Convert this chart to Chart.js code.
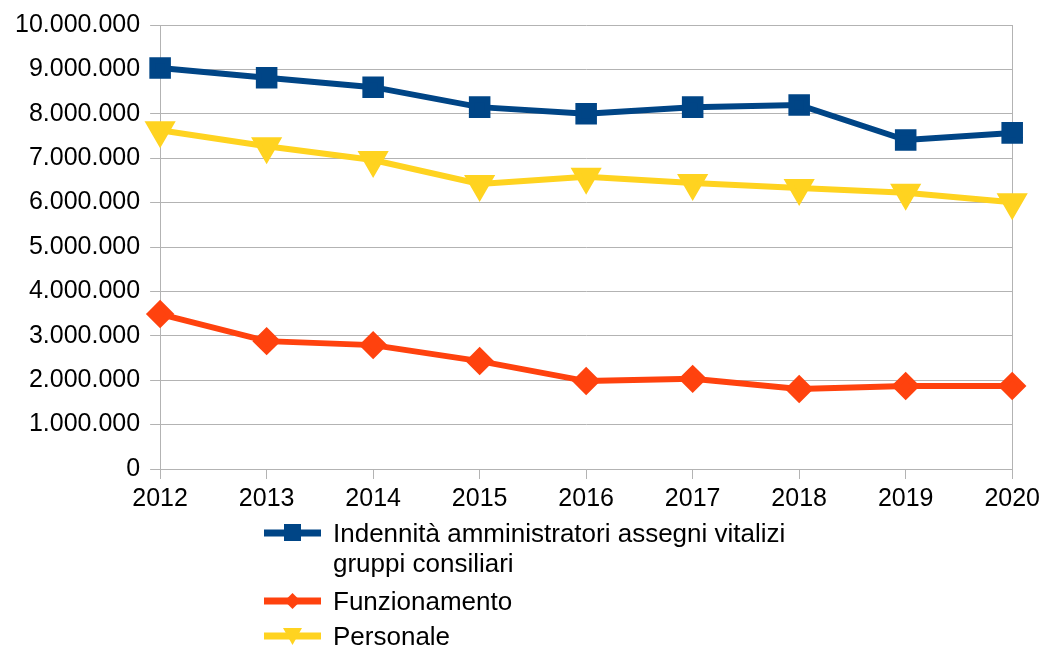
<!DOCTYPE html>
<html>
<head>
<meta charset="utf-8">
<script src="https://cdn.jsdelivr.net/npm/chart.js@4.4.1/dist/chart.umd.min.js"></script>
<style>
  html, body { margin: 0; padding: 0; background: #fff; }
  #wrap { position: relative; width: 1045px; height: 647px; }
  #c { position: absolute; left: 0; top: 0; }
  #legend { position: absolute; left: 264px; top: 518px; font-family: "Liberation Sans", Arial, sans-serif; font-size: 26px; color: #000; }
  .item { position: relative; padding-left: 69px; line-height: 30px; white-space: nowrap; }
  .item svg { position: absolute; left: 0; top: 2px; }
</style>
</head>
<body>
<div id="wrap">
  <canvas id="c" width="1045" height="647"></canvas>
  <div id="legend"></div>
</div>
<script>
const years = ['2012','2013','2014','2015','2016','2017','2018','2019','2020'];
const indennita = [9030000, 8810000, 8600000, 8150000, 8000000, 8150000, 8200000, 7410000, 7570000];
const funzionamento = [3490000, 2880000, 2790000, 2430000, 1980000, 2030000, 1800000, 1870000, 1870000];
const personale = [7630000, 7270000, 6960000, 6420000, 6580000, 6440000, 6330000, 6220000, 6010000];
const seriesNames = [['Indennità amministratori assegni vitalizi', 'gruppi consiliari'], ['Funzionamento'], ['Personale']];
const colors = ['#004586', '#ff420e', '#ffd320'];

const fmt = v => String(Math.round(v)).replace(/\B(?=(\d{3})+(?!\d))/g, '.');

new Chart(document.getElementById('c'), {
  type: 'line',
  data: {
    labels: years,
    datasets: [
      { label: seriesNames[0].join(' '), data: indennita, borderColor: colors[0], backgroundColor: colors[0], borderWidth: 6, pointStyle: 'rect', pointRadius: 11, pointHoverRadius: 11, tension: 0 },
      { label: seriesNames[1].join(' '), data: funzionamento, borderColor: colors[1], backgroundColor: colors[1], borderWidth: 6, pointStyle: 'rectRot', pointRadius: 10, pointHoverRadius: 10, tension: 0 },
      { label: seriesNames[2].join(' '), data: personale, borderColor: colors[2], backgroundColor: colors[2], borderWidth: 6, pointStyle: 'triangle', rotation: 180, pointRadius: 12, pointHoverRadius: 12, tension: 0 }
    ]
  },
  options: {
    responsive: false,
    animation: false,
    layout: { padding: { top: 14, right: 4, left: 5, bottom: 128 } },
    plugins: { legend: { display: false }, tooltip: { enabled: false } },
    scales: {
      x: {
        offset: false,
        grid: {
          color: ctx => (ctx.index === years.length - 1 ? '#b3b3b3' : 'rgba(0,0,0,0)'),
          tickColor: '#b3b3b3',
          lineWidth: 1, tickLength: 10
        },
        border: { color: '#b3b3b3' },
        ticks: { color: '#000', font: { family: 'Liberation Sans', size: 25 }, padding: 5, maxRotation: 0 }
      },
      y: {
        min: 0, max: 10000000,
        grid: { color: '#b3b3b3', lineWidth: 1, tickLength: 10 },
        border: { color: '#b3b3b3' },
        ticks: { stepSize: 1000000, color: '#000', font: { family: 'Liberation Sans', size: 25 }, padding: 10, callback: v => fmt(v) }
      }
    }
  }
});

// HTML legend
const markerSvg = [
  '<rect x="20" y="4" width="17" height="17" fill="' + colors[0] + '"/>',
  '<polygon points="28.5,5 36.5,13 28.5,21 20.5,13" fill="' + colors[1] + '"/>',
  '<polygon points="19,5 38,5 28.5,22" fill="' + colors[2] + '"/>'
];
const gaps = [8, 5, 0];
const leg = document.getElementById('legend');
seriesNames.forEach((name, i) => {
  const d = document.createElement('div');
  d.className = 'item';
  d.style.marginBottom = gaps[i] + 'px';
  d.innerHTML = '<svg width="57" height="26"><line x1="0" y1="13" x2="57" y2="13" stroke="' + colors[i] + '" stroke-width="7"/>' + markerSvg[i] + '</svg>' + name.join('<br>');
  leg.appendChild(d);
});
</script>
</body>
</html>
